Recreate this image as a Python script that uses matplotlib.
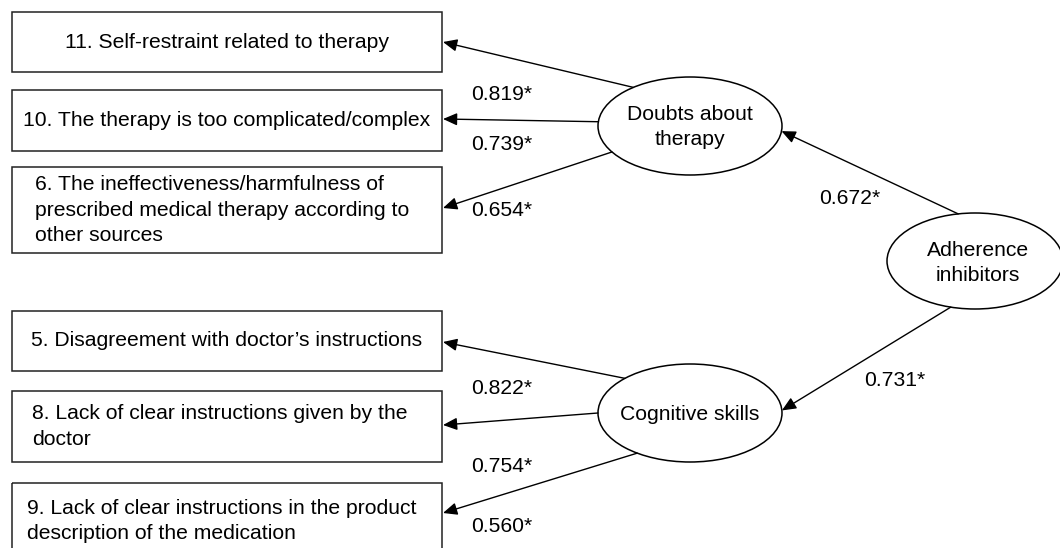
import numpy as np
import matplotlib.pyplot as plt
from matplotlib.patches import Rectangle, Ellipse, FancyArrowPatch

plt.rcParams['font.family'] = ['Liberation Sans', 'DejaVu Sans']

# Donnees du modele
facteurs = ["Doubts about\ntherapy", "Cognitive skills"]
facteur_global = "Adherence\ninhibitors"
items_doutes = ["11. Self-restraint related to therapy",
                "10. The therapy is too complicated/complex",
                "6. The ineffectiveness/harmfulness of\nprescribed medical therapy according to\nother sources"]
items_cognitif = ["5. Disagreement with doctor\u2019s instructions",
                  "8. Lack of clear instructions given by the\ndoctor",
                  "9. Lack of clear instructions in the product\ndescription of the medication"]
charges_doutes = [0.819, 0.739, 0.654]
charges_cognitif = [0.822, 0.754, 0.560]
charges_global = [0.672, 0.731]

# Mise en page (pixels, y vers le bas)
boites_doutes = [(12, 12, 430, 60, 'center'), (12, 90, 430, 61, 'center'), (12, 167, 430, 86, 'left')]
boites_cognitif = [(12, 311, 430, 60, 'center'), (12, 391, 430, 71, 'left'), (12, 483, 430, 76, 'left')]
texte_x = [None, None, 35, None, 32, 27]
pointes_y = [42, 119, 208, 342, 425, 513]
centres = [(690, 126), (690, 413)]
centre_global = (975, 261)
angles_depart = [[232, 185, 148], [225, 180, 125]]
etiq_items_y = [95, 145, 211, 388, 466, 526]

fig = plt.figure(figsize=(10.6, 5.48), dpi=100)
ax = fig.add_axes([0, 0, 1, 1])
ax.set_xlim(0, 1060)
ax.set_ylim(548, 0)
ax.axis('off')

fs = 15.2
interligne = 1.42


def point_ellipse(c, a, b, ang):
    t = np.deg2rad(ang)
    return (c[0] + a * np.cos(t), c[1] + b * np.sin(t))


def fleche(p0, p1):
    ax.add_patch(FancyArrowPatch(p0, p1, arrowstyle='-|>,head_length=0.5,head_width=0.22',
                                 mutation_scale=17, lw=1.0, color='black',
                                 shrinkA=0, shrinkB=0))


toutes_boites = boites_doutes + boites_cognitif
tous_items = items_doutes + items_cognitif
toutes_charges = charges_doutes + charges_cognitif

for i, ((x, y, w, h, align), txt) in enumerate(zip(toutes_boites, tous_items)):
    ax.add_patch(Rectangle((x, y), w, h, fill=False, lw=1.1, ec='#222222'))
    if align == 'center':
        ax.text(x + w / 2, y + h / 2, txt, ha='center', va='center', fontsize=fs)
    else:
        ax.text(texte_x[i], y + h / 2, txt, ha='left', va='center', fontsize=fs,
                linespacing=interligne)

a, b = 92, 49
for k, (c, nom) in enumerate(zip(centres, facteurs)):
    ax.add_patch(Ellipse(c, 2 * a, 2 * b, fill=False, lw=1.1, ec='black'))
    ax.text(c[0], c[1] + 1, nom, ha='center', va='center', fontsize=fs,
            linespacing=interligne)
    for j in range(3):
        idx = 3 * k + j
        p0 = point_ellipse(c, a, b, angles_depart[k][j])
        fleche(p0, (443, pointes_y[idx]))
        ax.text(471, etiq_items_y[idx], f"{toutes_charges[idx]:.3f}*", ha='left',
                va='center', fontsize=fs)

ag, bg = 88, 48
ax.add_patch(Ellipse(centre_global, 2 * ag, 2 * bg, fill=False, lw=1.1, ec='black'))
ax.text(centre_global[0] + 3, centre_global[1] + 2, facteur_global, ha='center', va='center',
        fontsize=fs, linespacing=interligne)

fleche(point_ellipse(centre_global, ag, bg, 259), point_ellipse(centres[0], a, b, 6))
fleche(point_ellipse(centre_global, ag, bg, 106), point_ellipse(centres[1], a, b, 357))
ax.text(819, 198, f"{charges_global[0]:.3f}*", ha='left', va='center', fontsize=fs)
ax.text(864, 381, f"{charges_global[1]:.3f}*", ha='left', va='center', fontsize=fs)

fig.savefig('out.png', dpi=100, facecolor='white')
